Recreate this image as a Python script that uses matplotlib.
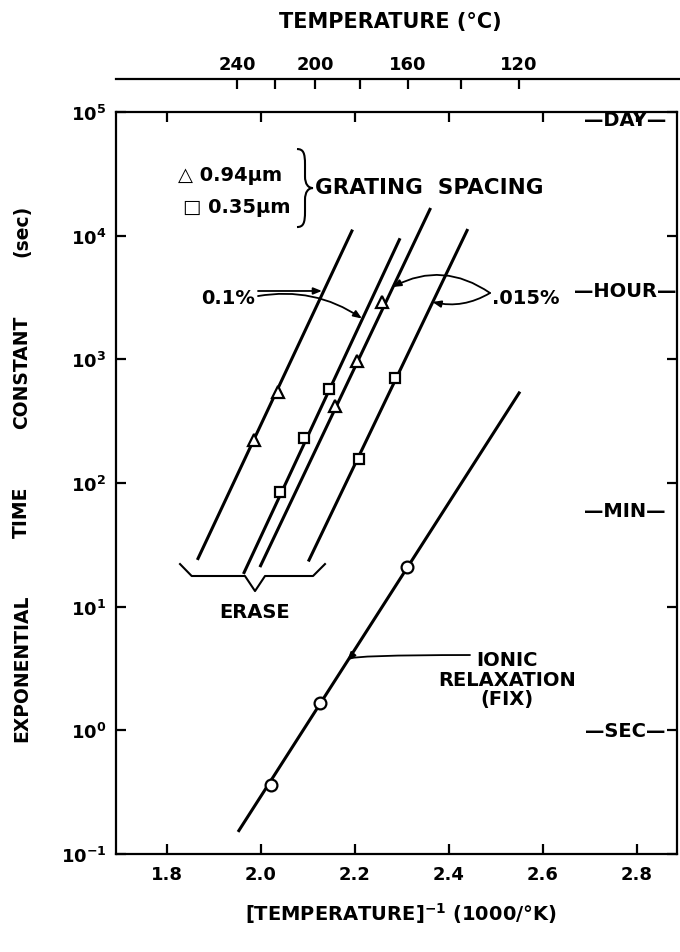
import numpy as np
import matplotlib
matplotlib.use("Agg")
import matplotlib.pyplot as plt
from matplotlib.path import Path
from matplotlib.patches import PathPatch
from matplotlib.ticker import FixedLocator, NullLocator, LogFormatterSciNotation, FixedFormatter

plt.rcParams['font.family'] = ['DejaVu Sans']
plt.rcParams['font.weight'] = 'bold'
plt.rcParams['mathtext.fontset'] = 'custom'
plt.rcParams['mathtext.rm'] = 'DejaVu Sans:bold'
plt.rcParams['mathtext.it'] = 'DejaVu Sans:bold'
plt.rcParams['mathtext.bf'] = 'DejaVu Sans:bold'

# --- data (x = 1000/T in 1/K, tau in sec) ---
# 0.94 um grating, 0.1 %  (triangles)
tri_a_x = [1.986, 2.037]
tri_a_tau = [224, 542]
fit_a_x = [1.865, 2.195]
fit_a_tau = [23.9, 11200]
# 0.35 um grating, 0.1 %  (squares)
sq_b_x = [2.041, 2.0925, 2.145]
sq_b_tau = [84, 231, 576]
fit_b_x = [1.963, 2.296]
fit_b_tau = [18.4, 9530]
# 0.94 um grating, .015 %  (triangles)
tri_c_x = [2.157, 2.204, 2.257]
tri_c_tau = [416, 976, 2895]
fit_c_x = [1.998, 2.361]
fit_c_tau = [20.9, 16750]
# 0.35 um grating, .015 %  (squares)
sq_d_x = [2.209, 2.285]
sq_d_tau = [157, 703]
fit_d_x = [2.101, 2.440]
fit_d_tau = [23.2, 11320]
# ionic relaxation (fix)
ion_x = [2.021, 2.126, 2.311]
ion_tau = [0.359, 1.67, 20.9]
fit_ion_x = [1.9515, 2.551]
fit_ion_tau = [0.151, 548]

x_ticks = [1.8, 2.0, 2.2, 2.4, 2.6, 2.8]
x_ticklabels = ['1.8', '2.0', '2.2', '2.4', '2.6', '2.8']
y_ticks = [1e-1, 1e0, 1e1, 1e2, 1e3, 1e4, 1e5]
temp_c_ticks = [240, 220, 200, 180, 160, 140, 120]
temp_c_labels = ['240', '', '200', '', '160', '', '120']
time_units = ['DAY', 'HOUR', 'MIN', 'SEC']
time_secs = [86400, 3600, 60, 1]
ylabel_words = ['EXPONENTIAL', 'TIME', 'CONSTANT', '(sec)']

fig = plt.figure(figsize=(6.8, 9.53), dpi=100)
ax = fig.add_axes([0.1706, 0.1028, 0.825, 0.7786])

lw = 2.2
for fx, fy in [(fit_a_x, fit_a_tau), (fit_b_x, fit_b_tau), (fit_c_x, fit_c_tau),
               (fit_d_x, fit_d_tau), (fit_ion_x, fit_ion_tau)]:
    ax.plot(fx, fy, color='black', lw=lw, solid_capstyle='butt', zorder=2)

mk = dict(linestyle='none', mfc='white', mec='black', mew=1.6, zorder=3)
ax.plot(tri_a_x, tri_a_tau, marker='^', ms=8, **mk)
ax.plot(tri_c_x, tri_c_tau, marker='^', ms=8, **mk)
ax.plot(sq_b_x, sq_b_tau, marker='s', ms=6.5, **mk)
ax.plot(sq_d_x, sq_d_tau, marker='s', ms=6.5, **mk)
ax.plot(ion_x, ion_tau, marker='o', ms=8.5, **mk)

ax.set_yscale('log')
ax.set_xlim(1.692, 2.885)
ax.set_ylim(1e-1, 1e5)
ax.xaxis.set_major_locator(FixedLocator(x_ticks))
ax.xaxis.set_major_formatter(FixedFormatter(x_ticklabels))
ax.yaxis.set_major_locator(FixedLocator(y_ticks))
ax.yaxis.set_major_formatter(LogFormatterSciNotation())
ax.yaxis.set_minor_locator(NullLocator())
ax.tick_params(direction='in', length=7, width=1.6, top=True, right=True,
               labelsize=13, pad=7)
ax.tick_params(axis='x', pad=8)
for s in ax.spines.values():
    s.set_linewidth(1.6)

# top temperature scale
tax = fig.add_axes([0.1706, 0.916, 0.83, 0.0001])
tax.set_xlim(ax.get_xlim())
for name in ['left', 'right', 'bottom']:
    tax.spines[name].set_visible(False)
tax.spines['top'].set_linewidth(1.6)
tax.set_yticks([])
tax.xaxis.set_ticks_position('top')
tax.xaxis.set_major_locator(FixedLocator([1000.0 / (t + 273.15) for t in temp_c_ticks]))
tax.xaxis.set_major_formatter(FixedFormatter(temp_c_labels))
tax.tick_params(axis='x', direction='in', length=7, width=1.6, labelsize=13, pad=4)
tax.set_facecolor('none')

fig.text(0.5735, 0.977, 'TEMPERATURE (°C)', ha='center', va='center', fontsize=15)
fig.text(0.59, 0.041, r'[TEMPERATURE]$^{-1}$ (1000/°K)', ha='center', va='center', fontsize=14)
# y label: words spread evenly along the axis like the hand lettering
for word, ypix in zip(ylabel_words, [668, 512, 372, 231]):
    fig.text(0.032, 1 - ypix / 953, word, rotation=90, ha='center', va='center', fontsize=13.5)

# annotations
fs = 14
ax.text(0.1105, 0.9164, '△ 0.94μm', transform=ax.transAxes, ha='left', va='center', fontsize=fs)
ax.text(0.1194, 0.8733, '□ 0.35μm', transform=ax.transAxes, ha='left', va='center', fontsize=fs)
ax.text(0.3547, 0.8989, 'GRATING  SPACING', transform=ax.transAxes, ha='left', va='center',
        fontsize=15.5)
ax.text(0.2478, 0.7507, '0.1%', transform=ax.transAxes, ha='right', va='center', fontsize=fs)
ax.text(0.6702, 0.7507, '.015%', transform=ax.transAxes, ha='left', va='center', fontsize=fs)
ax.text(0.2478, 0.3275, 'ERASE', transform=ax.transAxes, ha='center', va='center', fontsize=fs)
ax.text(0.697, 0.2358, 'IONIC\nRELAXATION\n(FIX)', transform=ax.transAxes, ha='center',
        va='center', fontsize=fs, multialignment='center', linespacing=1.05)

ytr = ax.get_yaxis_transform()
for name, sec in zip(time_units, time_secs):
    ax.text(0.907, sec, '—' + name + '—', transform=ytr, ha='center', va='center', fontsize=fs)

arrow = dict(arrowstyle='-|>,head_length=0.5,head_width=0.2', color='black', lw=1.3,
             shrinkA=0, shrinkB=0)
ax.annotate('', xy=(2.13, 3573), xytext=(0.2531, 0.7588), textcoords='axes fraction',
            arrowprops=dict(connectionstyle='arc3,rad=0.0', **arrow))
ax.annotate('', xy=(2.215, 2138), xytext=(0.2531, 0.752), textcoords='axes fraction',
            arrowprops=dict(connectionstyle='arc3,rad=-0.2', **arrow))
ax.annotate('', xy=(2.28, 3846), xytext=(0.6667, 0.7561), textcoords='axes fraction',
            arrowprops=dict(connectionstyle='arc3,rad=0.3', **arrow))
ax.annotate('', xy=(2.365, 2911), xytext=(0.6667, 0.7561), textcoords='axes fraction',
            arrowprops=dict(connectionstyle='arc3,rad=-0.2', **arrow))
ax.annotate('', xy=(2.184, 3.65), xytext=(0.631, 0.2682), textcoords='axes fraction',
            arrowprops=dict(connectionstyle='angle3,angleA=0,angleB=50', **arrow))

# braces
def vbrace(x0, y0, y1, w):
    h = y1 - y0
    ym = (y0 + y1) / 2
    m = x0 + w / 2
    verts = [(x0, y1), (x0 + 0.4 * w, y1), (m, y1 - 0.05 * h), (m, y1 - 0.2 * h),
             (m, ym + 0.15 * h),
             (m, ym + 0.05 * h), (x0 + 0.7 * w, ym), (x0 + w, ym),
             (x0 + 0.7 * w, ym), (m, ym - 0.05 * h), (m, ym - 0.15 * h),
             (m, y0 + 0.2 * h),
             (m, y0 + 0.05 * h), (x0 + 0.4 * w, y0), (x0, y0)]
    codes = [Path.MOVETO] + [Path.CURVE4] * 3 + [Path.LINETO] + [Path.CURVE4] * 6 + \
            [Path.LINETO] + [Path.CURVE4] * 3
    return PathPatch(Path(verts, codes), fill=False, lw=1.5, color='black', transform=ax.transAxes)

ax.add_patch(vbrace(0.3226, 0.845, 0.9501, 0.0286))
ax.plot([0.1141, 0.1349, 0.2299, 0.2478, 0.2656, 0.3512, 0.3725],
        [0.3908, 0.3747, 0.3747, 0.3544, 0.3747, 0.3747, 0.3908],
        transform=ax.transAxes, color='black', lw=1.5)

fig.savefig('out.png', dpi=100)
